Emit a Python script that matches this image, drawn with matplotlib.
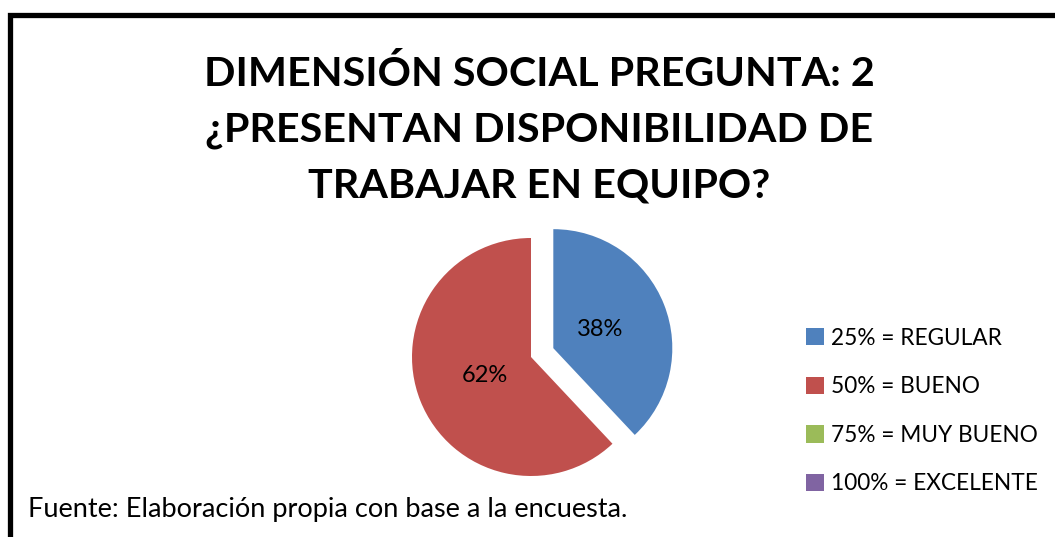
import matplotlib.pyplot as plt
from matplotlib.patches import Rectangle

categorias = ["25% = REGULAR", "50% = BUENO", "75% = MUY BUENO", "100% = EXCELENTE"]
porcentajes = [38, 62, 0, 0]
colores = ["#4F81BD", "#C0504D", "#9BBB59", "#8064A2"]

titulo = "DIMENSIÓN SOCIAL PREGUNTA: 2\n¿PRESENTAN DISPONIBILIDAD DE\nTRABAJAR EN EQUIPO?"
fuente = "Fuente: Elaboración propia con base a la encuesta."

plt.rcParams["font.family"] = ["Lato", "DejaVu Sans"]

fig = plt.figure(figsize=(10.55, 5.37), dpi=100)

# marco negro (solo se ve arriba e izquierda)
fig.patches.append(Rectangle((9.5 / 1055, -0.2), 1.5, (537 - 14.5) / 537 + 0.2,
                             transform=fig.transFigure, fill=False,
                             edgecolor="black", linewidth=3.8, clip_on=False))

ax = fig.add_axes([381 / 1055, 30 / 537, 300 / 1055, 300 / 537])
wedges, textos, autotextos = ax.pie(
    porcentajes, colors=colores, startangle=90, counterclock=False,
    explode=[0.24, 0, 0, 0], radius=1.19, pctdistance=0.42,
    autopct=lambda p: f"{p:.0f}%" if p > 0 else "",
    textprops={"fontsize": 17})
ax.set_xlim(-1.5, 1.5)
ax.set_ylim(-1.5, 1.5)

fig.text(0.511, 1 - 130 / 537, titulo, ha="center", va="center", fontsize=29.7,
         fontweight="bold", linespacing=1.62)

fig.legend(wedges, categorias, loc="upper left", bbox_to_anchor=(0.745, 0.428),
           frameon=False, fontsize=16.3, handlelength=0.8, handleheight=0.8,
           handletextpad=0.3, labelspacing=1.22)

fig.text(28 / 1055, 1 - 510 / 537, fuente, ha="left", va="center", fontsize=19.5)

fig.savefig("out.png", dpi=100)
